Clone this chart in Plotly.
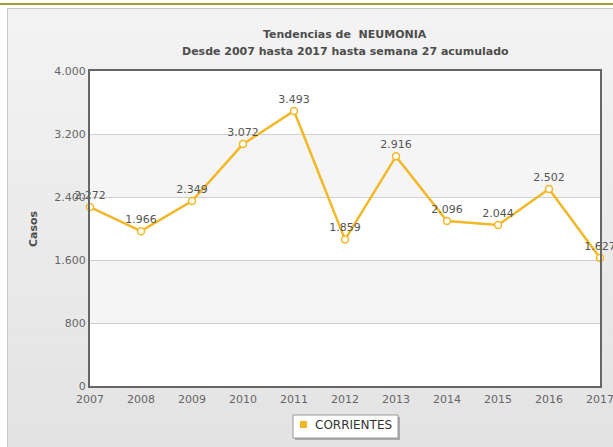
import plotly.graph_objects as go

years = [2007, 2008, 2009, 2010, 2011, 2012, 2013, 2014, 2015, 2016, 2017]
casos = [2272, 1966, 2349, 3072, 3493, 1859, 2916, 2096, 2044, 2502, 1627]
series_name = "CORRIENTES"
title_1 = "Tendencias de  NEUMONIA"
title_2 = "Desde 2007 hasta 2017 hasta semana 27 acumulado"
top_title = "Años 2007 hasta 2017"
y_title = "Casos"
y_ticks = [0, 800, 1600, 2400, 3200, 4000]

W, H = 613, 447
L, R, T, B = 90, 13, 71, 61
pw, ph = W - L - R, H - T - B

def px_x(px):
    return (px - L) / pw

def px_y(py):
    return (H - B - py) / ph

LINE = "#f1b827"
FONT = "DejaVu Sans"

shapes = []
# container gradient background
n = 40
top_c, bot_c = (0xf3, 0xf3, 0xf3), (0xe3, 0xe3, 0xe3)
y_top, y_bot = 8, 447
for i in range(n):
    t = i / (n - 1)
    c = tuple(round(a + (b - a) * t) for a, b in zip(top_c, bot_c))
    ya = y_top + (y_bot - y_top) * i / n
    yb = y_top + (y_bot - y_top) * (i + 1) / n + 0.5
    shapes.append(dict(type="rect", xref="paper", yref="paper", layer="below",
                       x0=px_x(7), x1=px_x(W + 5), y0=px_y(ya), y1=px_y(yb),
                       fillcolor="rgb(%d,%d,%d)" % c, line=dict(width=0)))
# container border
shapes.append(dict(type="rect", xref="paper", yref="paper", layer="below",
                   x0=px_x(7.5), x1=px_x(W + 5), y0=px_y(8.5), y1=px_y(H + 5),
                   fillcolor="rgba(0,0,0,0)", line=dict(color="#c8c8c8", width=1)))
# plot area white
shapes.append(dict(type="rect", xref="paper", yref="paper", layer="below",
                   x0=0, x1=1, y0=0, y1=1, fillcolor="white", line=dict(width=0)))
# alternate bands
for k in range(1, len(y_ticks) - 1, 2):
    shapes.append(dict(type="rect", xref="paper", yref="y", layer="below",
                       x0=0, x1=1, y0=y_ticks[k], y1=y_ticks[k + 1],
                       fillcolor="#f5f5f5", line=dict(width=0)))
# top olive line
shapes.append(dict(type="line", xref="paper", yref="paper",
                   x0=px_x(0), x1=px_x(W + 5), y0=px_y(4), y1=px_y(4),
                   line=dict(color="#a39f2c", width=2)))
# legend box (shadow, box, symbol)
shapes.append(dict(type="rect", xref="paper", yref="paper",
                   x0=px_x(295), x1=px_x(400), y0=px_y(417), y1=px_y(440),
                   fillcolor="rgba(0,0,0,0.25)", line=dict(width=0)))
shapes.append(dict(type="rect", xref="paper", yref="paper",
                   x0=px_x(293), x1=px_x(398), y0=px_y(415), y1=px_y(438),
                   fillcolor="white", line=dict(color="#999999", width=1)))
shapes.append(dict(type="rect", xref="paper", yref="paper",
                   x0=px_x(300), x1=px_x(307), y0=px_y(421), y1=px_y(428),
                   fillcolor=LINE, line=dict(width=0)))

fig = go.Figure()
fig.add_trace(go.Scatter(
    x=years, y=casos, mode="lines+markers+text", name=series_name,
    line=dict(color=LINE, width=2.5),
    marker=dict(symbol="circle", size=7, color="white", line=dict(color=LINE, width=1.5)),
    texttemplate="%{y:,d}", textposition="top center",
    textfont=dict(family=FONT, size=11, color="#555555"),
    cliponaxis=False, showlegend=False, hoverinfo="x+y",
))

annotations = [
    dict(text="<b>" + title_1 + "</b>", xref="paper", yref="paper", x=0.5, y=px_y(35),
         showarrow=False, font=dict(family=FONT, size=11, color="#4d4d4d"), yanchor="middle"),
    dict(text="<b>" + title_2 + "</b>", xref="paper", yref="paper", x=0.5, y=px_y(51),
         showarrow=False, font=dict(family=FONT, size=11, color="#4d4d4d"), yanchor="middle"),
    dict(text="<b>" + top_title + "</b>", xref="paper", yref="paper", x=px_x(309), y=px_y(-5),
         showarrow=False, font=dict(family=FONT, size=12, color="#555555"), yanchor="middle"),
    dict(text="<b>" + y_title + "</b>", xref="paper", yref="paper", x=px_x(33), y=px_y(229),
         showarrow=False, textangle=-90, font=dict(family=FONT, size=11, color="#4d4d4d"),
         xanchor="center", yanchor="middle"),
    dict(text=series_name, xref="paper", yref="paper", x=px_x(313), y=px_y(425),
         showarrow=False, font=dict(family=FONT, size=12, color="#333333"),
         xanchor="left", yanchor="middle"),
]

fig.update_layout(
    width=W, height=H,
    margin=dict(l=L, r=R, t=T, b=B, pad=0, autoexpand=False),
    paper_bgcolor="white", plot_bgcolor="rgba(0,0,0,0)",
    separators=",.",
    font=dict(family=FONT, size=11, color="#666666"),
    shapes=shapes, annotations=annotations,
    showlegend=False,
    xaxis=dict(range=[years[0], years[-1]], tickmode="array", tickvals=years,
               ticktext=[str(y) for y in years], showgrid=False, zeroline=False,
               showline=True, mirror=True, linecolor="#666666", linewidth=2,
               ticks="outside", ticklen=2, tickcolor="rgba(0,0,0,0)", automargin=False,
               ticklabeloverflow="allow",
               tickfont=dict(family=FONT, size=11, color="#666666")),
    yaxis=dict(range=[0, 4000], tickmode="array", tickvals=y_ticks, tickformat=",d",
               showgrid=True, gridcolor="#d0d0d0", gridwidth=1, zeroline=False,
               showline=True, mirror=True, linecolor="#666666", linewidth=2,
               ticks="", automargin=False,
               tickfont=dict(family=FONT, size=11, color="#666666")),
)

fig.write_html("out.html", config={"displayModeBar": False},
               post_script="document.body.style.margin='0';document.body.style.overflow='hidden';")
